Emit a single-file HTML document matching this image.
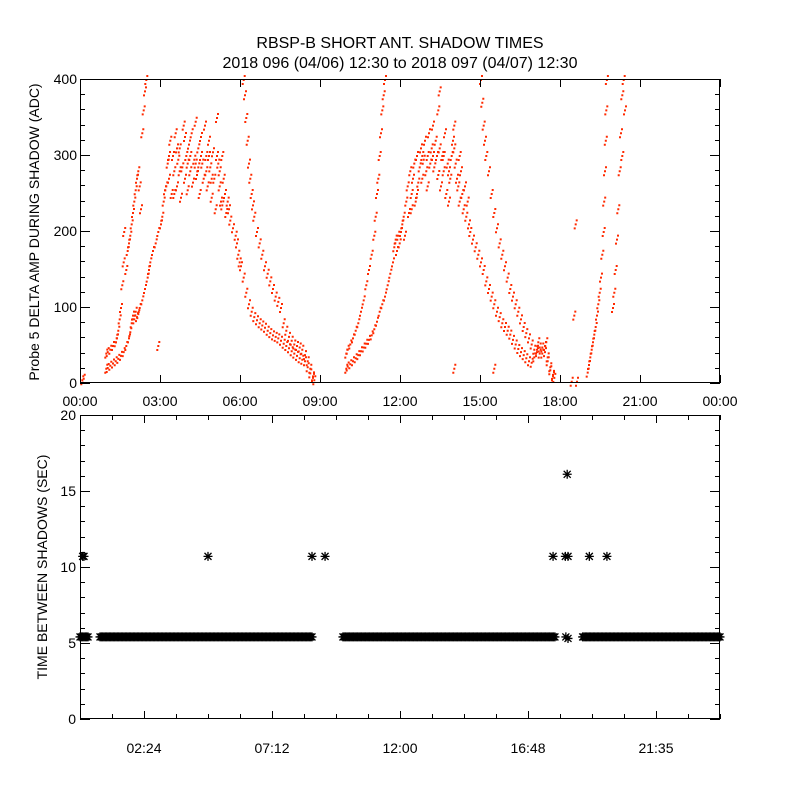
<!DOCTYPE html>
<html><head><meta charset="utf-8"><style>
html,body{margin:0;padding:0;background:#fff;}
svg{display:block;font-family:"Liberation Sans",sans-serif;}
</style></head><body>
<svg id="chart" width="800" height="800" viewBox="0 0 800 800">
<rect width="800" height="800" fill="#fff"/>
<text x="400" y="48" text-anchor="middle" font-size="16">RBSP-B SHORT ANT. SHADOW TIMES</text>
<text x="400" y="68" text-anchor="middle" font-size="16">2018 096 (04/06) 12:30 to 2018 097 (04/07) 12:30</text>
<g id="topPanel"></g>
<g id="botPanel"></g>
</svg>
<script>
// ---- top panel data: [hour, ADC] ----
const bandLowA=[[0.95,20],[1.0,21],[1.1,24],[1.2,27],[1.3,30],[1.4,33],[1.5,37],[1.6,42],[1.7,50],[1.8,60],[1.85,68],[1.9,80],[1.95,90],[2.0,85],[2.05,95],[2.1,88],[2.15,92],[2.2,100],[2.3,110],[2.4,125],[2.5,140],[2.55,150],[2.6,160],[2.7,175],[2.8,185],[2.9,200],[3.0,210],[3.05,220],[3.1,240],[3.15,255],[3.2,260],
[3.25,290],[3.3,270],[3.35,320],[3.4,250],[3.45,300],[3.5,280],[3.55,330],[3.6,260],[3.65,295],[3.7,310],[3.75,245],[3.8,285],[3.85,340],[3.9,270],[3.95,300],[4.0,255],[4.05,315],[4.1,280],[4.15,330],[4.2,265],[4.25,295],[4.3,345],[4.35,275],[4.4,310],[4.45,250],[4.5,325],[4.55,290],[4.6,270],[4.65,340],[4.7,300],[4.75,260],[4.8,320],[4.85,285],[4.9,245],[4.95,305],[5.0,270],[5.05,230],[5.1,350],[5.15,290],[5.2,260],[5.25,240],[5.3,300],[5.35,270],[5.4,250],[5.45,225],[5.5,240],
[3.3,300],[3.5,250],[3.7,280],[3.9,325],[4.1,300],[4.3,290],[4.5,300],[4.7,280],[4.9,270],[5.1,300],[5.3,235],[3.6,310],[4.0,290],[4.4,285],[4.8,300],[5.2,280],
[5.55,230],[5.6,215],[5.7,205],[5.8,195],[5.85,185],[5.9,170],[5.95,160],[6.0,155],[6.1,140],[6.2,120],[6.3,105],[6.4,95],[6.5,88],[6.6,84],[6.7,80],[6.8,77],[6.9,74],[7.0,70],[7.1,67],[7.2,64],[7.3,62],[7.4,60],[7.5,57],[7.6,53],[7.7,50],[7.8,47],[7.9,43],[8.0,40],[8.1,37],[8.2,34],[8.3,32],[8.4,30],[8.5,22],[8.6,14],[8.7,8],[8.75,5]];
const bandHighB=[[0.95,40],[1.0,42],[1.1,45],[1.2,50],[1.3,55],[1.35,60],[1.4,70],[1.45,85],[1.5,100],[1.55,130],[1.6,160],[1.62,200],[1.7,150],[1.75,175],[1.8,185],[1.85,195],[1.9,210],[1.95,225],[2.0,240],[2.05,255],[2.1,270],[2.15,280],[2.2,260],[2.25,230],[2.3,330],[2.35,360],[2.4,385],[2.45,400]];
const bandDescC=[[6.1,400],[6.15,380],[6.2,350],[6.25,320],[6.3,290],[6.35,270],[6.4,250],[6.45,235],[6.5,220],[6.6,200],[6.7,185],[6.8,170],[6.9,155],[7.0,145],[7.1,135],[7.2,125],[7.3,115],[7.4,108],[7.5,100],[7.6,80],[7.7,70],[7.8,62],[7.9,57],[8.0,52],[8.1,50],[8.2,48],[8.3,45],[8.4,38],[8.5,30],[8.6,20],[8.7,10]];
const bandLowD=[[9.95,20],[10.0,23],[10.1,26],[10.2,30],[10.3,34],[10.4,38],[10.5,43],[10.6,48],[10.7,53],[10.8,58],[10.9,64],[11.0,72],[11.1,82],[11.2,95],[11.3,105],[11.4,115],[11.5,130],[11.6,145],[11.7,160],[11.75,180],[11.8,190],[11.85,175],[11.9,195],[11.95,185],[12.0,200],[12.05,210],[12.1,220],[12.15,195],
[12.2,240],[12.25,260],[12.3,225],[12.35,280],[12.4,250],[12.45,270],[12.5,290],[12.55,240],[12.6,300],[12.65,265],[12.7,285],[12.75,310],[12.8,270],[12.85,295],[12.9,320],[12.95,280],[13.0,300],[13.05,330],[13.1,290],[13.15,310],[13.2,340],[13.25,285],[13.3,320],[13.35,300],[13.4,275],[13.45,310],[13.5,260],[13.55,300],[13.6,280],[13.65,330],[13.7,250],[13.75,290],[13.8,240],[13.85,270],[13.9,300],[13.95,320],[14.0,340],[14.05,290],[14.1,270],[14.15,260],[14.2,240],[14.25,280],[14.3,250],[14.35,230],[14.4,260],[14.45,220],[14.5,240],[14.55,210],[14.6,200],
[12.4,230],[12.8,300],[13.2,300],[13.4,360],[13.45,385],[13.0,260],[13.6,300],[14.0,310],[14.2,300],[12.6,250],[13.8,280],
[14.7,190],[14.8,180],[14.9,170],[15.0,160],[15.1,150],[15.2,135],[15.3,125],[15.4,115],[15.5,105],[15.6,95],[15.7,88],[15.8,80],[15.9,75],[16.0,70],[16.1,65],[16.2,58],[16.3,52],[16.4,46],[16.5,42],[16.6,38],[16.7,34],[16.8,30],[16.9,28],[17.0,35],[17.1,45],[17.15,55],[17.2,48],[17.3,40],[17.4,50],[17.45,55],[17.5,35],[17.6,22],[17.7,12],[17.75,8]];
const bandHighE=[[9.95,40],[10.0,45],[10.1,52],[10.2,60],[10.3,70],[10.4,80],[10.5,95],[10.6,110],[10.7,130],[10.8,150],[10.9,170],[11.0,195],[11.05,220],[11.1,250],[11.15,270],[11.2,300],[11.25,330],[11.3,360],[11.35,380],[11.4,400]];
const bandDescF=[[15.0,400],[15.05,370],[15.1,340],[15.15,320],[15.2,300],[15.3,280],[15.4,250],[15.5,225],[15.6,205],[15.7,185],[15.8,170],[15.9,155],[16.0,140],[16.1,125],[16.2,115],[16.3,105],[16.4,95],[16.5,85],[16.6,75],[16.7,67],[16.8,60],[16.9,52],[17.0,45],[17.1,42],[17.2,40],[17.3,48],[17.4,42],[17.5,30],[17.6,18],[17.7,10]];
const bandRiseG=[[19.0,15],[19.05,25],[19.1,35],[19.15,45],[19.2,55],[19.25,65],[19.3,75],[19.35,90],[19.4,105],[19.45,120],[19.5,140],[19.55,170],[19.6,200],[19.62,240],[19.65,280],[19.68,320],[19.7,360],[19.72,400]];
const bandRiseH=[[19.95,100],[20.0,120],[20.05,150],[20.1,190],[20.15,230],[20.2,280],[20.25,330],[20.3,380],[20.35,400],[20.4,360],[20.3,300]];
const outliers=[[0.05,5],[0.1,7],[2.9,50],[18.4,3],[18.6,3],[18.5,90],[18.55,210],[14.0,20],[15.5,20]];
const topXTicks=["00:00","03:00","06:00","09:00","12:00","15:00","18:00","21:00","00:00"];
const topYTicks=[0,100,200,300,400];
// ---- bottom panel data ----
const bandStart=[0,0.75,9.86,18.85];
const bandEnd=[0.3,8.74,17.85,24];
const bandValue=5.4;
const clusterHours=[18.22,18.3];
const clusterValues=[5.4,5.3];
const upperHours=[0.1,0.15,4.8,8.7,9.19,17.74,18.2,18.3,19.1,19.76,18.27];
const upperValues=[10.7,10.7,10.7,10.7,10.7,10.7,10.7,10.7,10.7,10.7,16.1];
const botXLabels=["02:24","07:12","12:00","16:48","21:35"];
const botXLabelHours=[2.4,7.2,12,16.8,21.6];
const botYTicks=[0,5,10,15,20];

const NS="http://www.w3.org/2000/svg";
function mk(parent,tag,attrs){const e=document.createElementNS(NS,tag);for(const k in attrs)e.setAttribute(k,attrs[k]);parent.appendChild(e);return e;}
const L=80,R=720;
const tx=h=>L+h/24*(R-L);
const T1=79,B1=383; const ty=v=>B1-v/400*(B1-T1);
const T2=415,B2=719; const by=v=>B2-v/20*(B2-T2);

// Top panel
const topG=document.getElementById('topPanel');
const dots=mk(topG,'g',{fill:'#ff2a00'});


[bandLowA,bandHighB,bandDescC,bandLowD,bandHighE,bandDescF,bandRiseG,bandRiseH,outliers].forEach(s=>{
  s.forEach(p=>{const y=ty(p[1]);if(y<T1)return;
    const x=tx(p[0]);
    const r=mk(dots,'path',{d:`M${x.toFixed(1)} ${y.toFixed(1)}h2v2h-2zM${(x+1).toFixed(1)} ${(y-4).toFixed(1)}h2v2h-2zM${(x-1).toFixed(1)} ${(y+4).toFixed(1)}h2v2h-2z`});
    
    
  });
});
const ax1=mk(topG,'g',{stroke:'#000','stroke-width':1,fill:'none'});


mk(ax1,'rect',{x:L+0.5,y:T1+0.5,width:R-L-1,height:B1-T1-1});
for(let i=0;i<=8;i++){const x=Math.round(tx(i*3))+0.5;mk(ax1,'line',{x1:x,y1:B1,x2:x,y2:B1-8});mk(ax1,'line',{x1:x,y1:T1,x2:x,y2:T1+8});}
for(let v=0;v<=400;v+=20){const y=Math.round(ty(v))+0.5;const len=v%100===0?10:5;mk(ax1,'line',{x1:L,y1:y,x2:L+len,y2:y});mk(ax1,'line',{x1:R,y1:y,x2:R-len,y2:y});}
topXTicks.forEach((t,i)=>{const e=mk(topG,'text',{x:tx(i*3),y:406,'text-anchor':'middle','font-size':14});e.textContent=t;
  
  });
topYTicks.forEach(v=>{const e=mk(topG,'text',{x:L-3,y:ty(v)+5,'text-anchor':'end','font-size':14});e.textContent=v;
  
  });
const yt1=mk(topG,'text',{x:0,y:0,'text-anchor':'middle','font-size':14,transform:'translate(39,232) rotate(-90)'});
yt1.textContent='Probe 5 DELTA AMP DURING SHADOW (ADC)';



// Bottom panel
const botG=document.getElementById('botPanel');
function star(g,x,y){return mk(g,'path',{d:`M${x-4.5} ${y}h9M${x} ${y-4.5}v9M${x-3.5} ${y-3.5}l7 7M${x-3.5} ${y+3.5}l7 -7`});}
const stars=mk(botG,'g',{stroke:'#000','stroke-width':1.3,fill:'none'});


bandStart.forEach((s,i)=>{for(let h=s;h<=bandEnd[i]+1e-6;h+=0.05){const p=star(stars,tx(h),by(bandValue));
  
  }});
clusterHours.forEach((h,i)=>{const p=star(stars,tx(h),by(clusterValues[i]));
  
  });
upperHours.forEach((h,i)=>{const p=star(stars,tx(h),by(upperValues[i]));
  
  });
const ax2=mk(botG,'g',{stroke:'#000','stroke-width':1,fill:'none'});


mk(ax2,'rect',{x:L+0.5,y:T2+0.5,width:R-L-1,height:B2-T2-1});
for(let k=0;k*1.2<=24.01;k++){const h=k*1.2;const x=Math.round(tx(h))+0.5;const len=(k%4===2)?8:5;mk(ax2,'line',{x1:x,y1:B2,x2:x,y2:B2-len});mk(ax2,'line',{x1:x,y1:T2,x2:x,y2:T2+len});}
for(let v=0;v<=20;v++){const y=Math.round(by(v))+0.5;const len=v%5===0?10:5;mk(ax2,'line',{x1:L,y1:y,x2:L+len,y2:y});mk(ax2,'line',{x1:R,y1:y,x2:R-len,y2:y});}
botXLabels.forEach((t,i)=>{const e=mk(botG,'text',{x:tx(botXLabelHours[i]),y:753,'text-anchor':'middle','font-size':14});e.textContent=t;
  
  });
botYTicks.forEach(v=>{const e=mk(botG,'text',{x:L-4,y:by(v)+5,'text-anchor':'end','font-size':14});e.textContent=v;
  
  });
const yt2=mk(botG,'text',{x:0,y:0,'text-anchor':'middle','font-size':14,transform:'translate(47,567) rotate(-90)'});
yt2.textContent='TIME BETWEEN SHADOWS (SEC)';


</script>
</body></html>
